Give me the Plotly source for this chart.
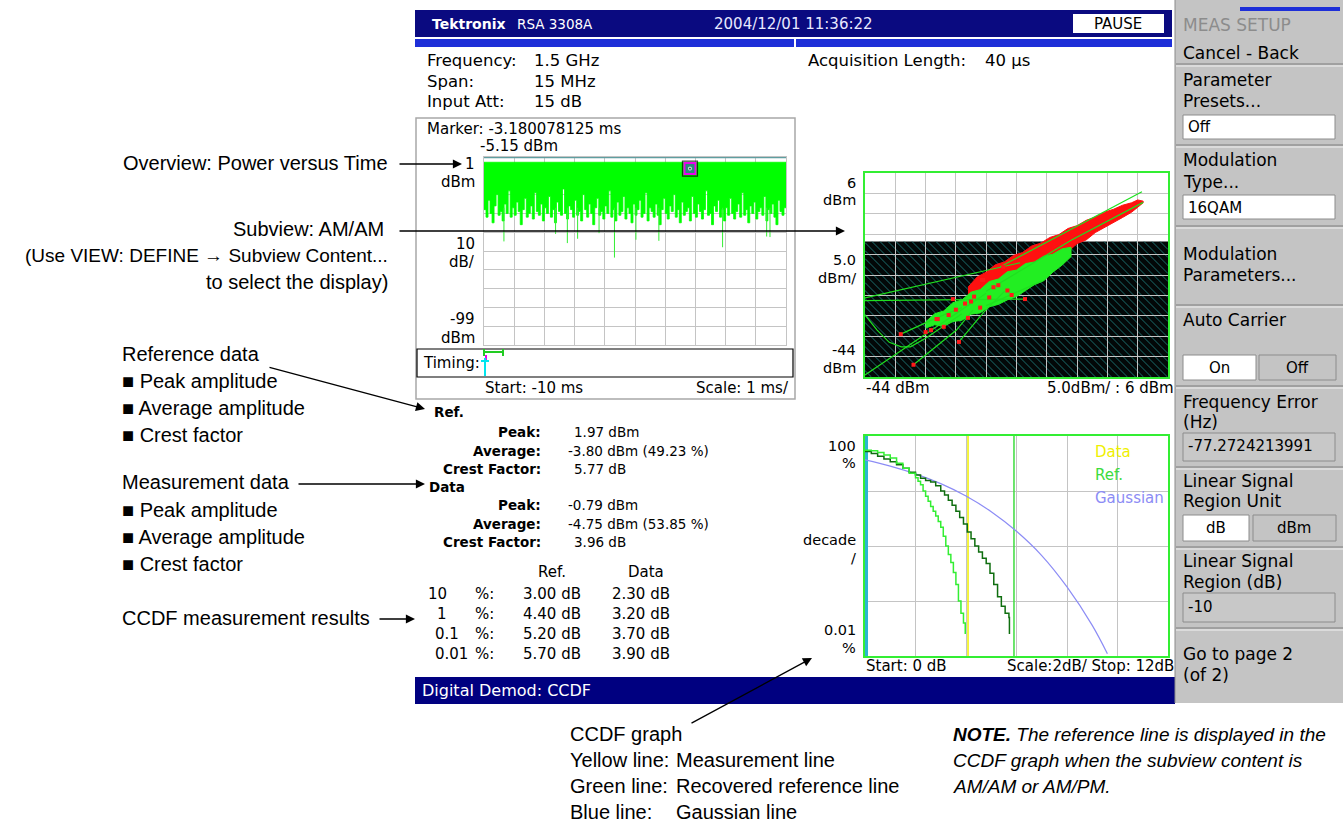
import plotly.graph_objects as go

W, H = 1343, 823

# ---------------- data ----------------
# Overview: power versus time, -10 ms .. 0 ms, lower tips of the trace (dBm)
ovw_top_dbm = -1.8
ovw_floor_dbm = [
    -27, -31, -22, -29, -34, -25, -19, -30, -28, -33, -24, -29, -17, -31, -26,
    -30, -23, -28, -35, -27, -21, -31, -29, -25, -32, -18, -28, -30, -24, -33,
    -26, -29, -20, -31, -27, -34, -23, -28, -30, -16, -29, -32, -25, -27, -31,
    -22, -30, -28, -33, -19, -27, -31, -24, -29, -35, -26, -21, -30, -28, -32,
    -25, -29, -17, -31, -27, -33, -23, -30, -28, -20, -32, -26, -29, -34, -24,
    -30, -27, -22, -31, -29, -18, -33, -26, -28, -31, -24, -30, -35, -27, -21,
    -29, -32, -25, -28, -19, -31, -27, -34, -23, -30, -28, -26, -33, -20, -29,
    -31, -24, -28, -32, -27, -17, -30, -29, -35, -25, -28, -22, -31, -27, -33,
    -26, -30, -21, -29, -32, -28, -24, -31, -18, -30, -27, -34, -25, -29, -23,
    -32, -28, -26, -30, -20, -33, -27, -29, -24, -31, -35, -22, -28, -30, -26,
]
ovw_spike_ms = [-9.34, -7.63, -7.24, -6.90, -6.19, -5.68, -4.97, -4.21, -2.10, -0.64, -0.53]
ovw_spike_dbm = [-43.9, -39.9, -44.8, -42.5, -39.5, -52.5, -43.0, -43.6, -47.0, -41.3, -41.6]
marker_ms = -3.18
marker_dbm = -5.15

# AM/AM subview (input dBm vs output dBm)
amam_red_x = [-27, -25.5, -24, -22.5, -21, -19.5, -18, -16.5, -15, -13.5, -12, -10.5,
              -9, -7.5, -6, -4.5, -3, -1.5, 0, 1.0, 1.9]
amam_red_hi = [-22, -19.5, -18.3, -16.5, -15.8, -14.2, -13.5, -11.9, -11.2, -9.8, -9.1, -7.6,
               -6.9, -5.6, -4.8, -3.6, -2.9, -1.9, -1.3, -0.6, -0.9]
amam_red_lo = [-27, -26.2, -25, -24.1, -22.5, -21.6, -19.8, -19.0, -17.2, -16.1, -14.2, -13.3,
               -11.3, -10.4, -8.6, -7.5, -6.1, -4.9, -3.6, -2.4, -1.3]
amam_grn_x = [-34, -32.5, -31, -29.5, -28, -26.5, -25, -23.5, -22, -20.5, -19, -17.5,
              -16, -14.5, -13, -11.5, -10]
amam_grn_hi = [-30.5, -28.5, -27.8, -25.8, -25.1, -23.2, -22.6, -20.6, -20.0, -18.2, -17.8, -16.2,
               -15.8, -14.4, -13.9, -12.6, -12.2]
amam_grn_lo = [-32, -31.2, -31.6, -30.4, -30.1, -28.6, -28.3, -26.8, -26.2, -25.1, -24.3, -22.8,
               -21.3, -20.4, -18.3, -16.6, -14.5]
amam_path_x = [-44, -18.4, None, -44, -17.6, None,
               -44, -42, -40, -38, -36.5, -34, -31, -28, None,
               -44, -30.5, -24, None, -36, -28.9, -26.2, None,
               -38.1, -32.2, -28, None, -28.5, -24.5, -21, None,
               -14.8, -24, None, -21.7, 1.7, None, -24, -10, 1.9]
amam_path_y = [-24.6, -16, None, -25.3, -24.9, None,
               -28.8, -32.5, -35.5, -36.6, -36.6, -34.5, -31.5, -28.5, None,
               -43.5, -30, -23.5, None, -41, -32.5, -27.6, None,
               -33.5, -29.5, -27, None, -35.4, -28.3, -23, None,
               -20.5, -26.5, None, -17, 1.4, None, -23, -10.5, -1.2]
amam_dot_x = [-38.1, -36.0, -28.5, -34.0, -33.1, -31.0, -29.5, -32.2, -30.2, -24.5, -17.6,
              -21.2, -32.0, -24.7, -19.8, -26.5, -22.8, -29, -27.5, -26, -25, -23.5, -22, -20.5, -27]
amam_dot_y = [-33.5, -41.0, -35.4, -33.0, -32.5, -31.7, -24.9, -29.8, -28.8, -20.2, -24.9,
              -17.0, -29.8, -20.2, -23.9, -25.5, -22.0, -27.5, -26, -24.3, -27, -24.5, -21.5, -22.8, -29.5]
amam_linear_top_dbm = -10.8

# CCDF graph (dB above average vs probability %)
ccdf_data_db = [0, 0.25, 0.5, 0.75, 1.0, 1.25, 1.5, 1.75, 2.0, 2.1, 2.2, 2.3, 2.4, 2.5, 2.6, 2.7,
                2.8, 2.9, 3.0, 3.1, 3.2, 3.3, 3.4, 3.5, 3.6, 3.7, 3.8, 3.9, 3.97]
ccdf_data_pct = [55, 54, 50, 45, 40, 32, 26, 21, 17.5, 15, 13, 10, 8, 6.5, 5.2, 4.3,
                 3.5, 2.8, 2.2, 1.5, 1.0, 0.7, 0.5, 0.33, 0.2, 0.1, 0.06, 0.04, 0.025]
ccdf_ref_db = [0, 0.25, 0.5, 0.75, 1.0, 1.25, 1.5, 1.75, 2.0, 2.2, 2.4, 2.6, 2.8, 3.0, 3.15, 3.3,
               3.45, 3.6, 3.75, 3.9, 4.05, 4.2, 4.35, 4.5, 4.65, 4.8, 4.95, 5.1, 5.25, 5.4, 5.55, 5.7, 5.72]
ccdf_ref_pct = [52, 48, 43, 38, 34, 30, 26, 22, 19.5, 17, 15.5, 14.5, 12.5, 10, 8.5, 6.8,
                5.5, 4.3, 3.3, 2.5, 1.8, 1.35, 1.0, 0.78, 0.6, 0.48, 0.32, 0.2, 0.12, 0.08, 0.06, 0.05, 0.025]
ccdf_gauss_db = [0, 1, 2, 3, 4, 5, 6, 7, 8, 9, 9.6]
ccdf_gauss_pct = [36.8, 28.4, 20.5, 13.6, 8.1, 4.2, 1.85, 0.67, 0.18, 0.036, 0.011]
ccdf_cursor_db = [0.05, 4.08, 5.9]
ccdf_cursor_color = ['#2bb5d0', '#f0f000', '#3ddc3d']
ccdf_cursor_width = [3.5, 1.5, 1.5]

# numeric readouts
ref_labels = ['Peak:', 'Average:', 'Crest Factor:']
ref_values = ['1.97 dBm', '-3.80 dBm (49.23 %)', '5.77 dB']
data_values = ['-0.79 dBm', '-4.75 dBm (53.85 %)', '3.96 dB']
ccdf_levels = ['10', '1', '0.1', '0.01']
ccdf_ref_txt = ['3.00 dB', '4.40 dB', '5.20 dB', '5.70 dB']
ccdf_data_txt = ['2.30 dB', '3.20 dB', '3.70 dB', '3.90 dB']

# ---------------- pixel helpers ----------------
def px(x):
    return x / W


def py(y):
    return 1 - y / H


OV = (484, 786, 157, 345)
AM = (865, 1168, 173, 377)
CC = (865, 1168, 436, 656)

INSTR = 'DejaVu Sans'
NOTE = 'Liberation Sans Narrow, Arial Narrow, Liberation Sans, sans-serif'

fig = go.Figure()
shapes = []
notes = []


def rect(x0, y0, x1, y1, fill=None, line=None, lw=1):
    shapes.append(dict(type='rect', xref='paper', yref='paper', layer='below',
                       x0=px(x0), x1=px(x1), y0=py(y0), y1=py(y1),
                       fillcolor=fill or 'rgba(0,0,0,0)',
                       line=dict(color=line or 'rgba(0,0,0,0)', width=lw if line else 0)))


def seg(x0, y0, x1, y1, color, lw=1):
    shapes.append(dict(type='line', xref='paper', yref='paper', layer='above',
                       x0=px(x0), x1=px(x1), y0=py(y0), y1=py(y1),
                       line=dict(color=color, width=lw)))


def txt(x, y, s, size=15, color='black', anchor='left', family=INSTR):
    notes.append(dict(x=px(x), y=py(y), xref='paper', yref='paper', text=s, showarrow=False,
                      xanchor=anchor, yanchor='middle', font=dict(family=family, size=size, color=color)))


def arrow(x0, y0, x1, y1):
    notes.append(dict(x=px(x1), y=py(y1), xref='paper', yref='paper', text='', showarrow=True,
                      ax=x0 - x1, ay=y0 - y1, axref='pixel', ayref='pixel',
                      arrowhead=2, arrowsize=1.4, arrowwidth=1.3, arrowcolor='black', standoff=0))


# ---------------- overview trace: one filled stepped outline ----------------
n = len(ovw_floor_dbm)
edges = [-10 + i * 10 / n for i in range(n + 1)]
ox = [-10, 0, edges[n]] + [edges[i] for i in range(n - 1, -1, -1)] + [-10]
oy = [ovw_top_dbm, ovw_top_dbm, ovw_floor_dbm[n - 1]] + \
     [ovw_floor_dbm[max(i - 1, 0)] for i in range(n - 1, -1, -1)] + [ovw_top_dbm]
fig.add_trace(go.Scatter(x=ox, y=oy, mode='lines', line_shape='hv', fill='toself',
                         fillcolor='#00ff00', line=dict(color='#00ff00', width=0.8),
                         xaxis='x', yaxis='y', hoverinfo='skip'))
sx, sy = [], []
for t, d in zip(ovw_spike_ms, ovw_spike_dbm):
    sx += [t, t, None]
    sy += [-26, d, None]
fig.add_trace(go.Scatter(x=sx, y=sy, mode='lines', line=dict(color='#33ee33', width=1),
                         xaxis='x', yaxis='y', hoverinfo='skip'))
fig.add_trace(go.Scatter(x=[marker_ms], y=[marker_dbm], mode='markers', xaxis='x', yaxis='y',
                         marker=dict(symbol='square', size=11, color='#2a8a7a',
                                     line=dict(color='#ee00ee', width=2))))
fig.add_trace(go.Scatter(x=[marker_ms, marker_ms], y=[marker_dbm, marker_dbm], mode='markers',
                         xaxis='x', yaxis='y',
                         marker=dict(symbol=['square-open', 'circle'], size=[15, 3],
                                     color=['black', '#222222'], line=dict(width=1.2))))

# ---------------- AM/AM ----------------
fig.add_trace(go.Scatter(x=amam_red_x + amam_red_x[::-1], y=amam_red_hi + amam_red_lo[::-1],
                         fill='toself', fillcolor='#ff1010', mode='lines',
                         line=dict(color='#ff1010', width=1), xaxis='x2', yaxis='y2'))
fig.add_trace(go.Scatter(x=amam_grn_x + amam_grn_x[::-1], y=amam_grn_hi + amam_grn_lo[::-1],
                         fill='toself', fillcolor='#22ee22', mode='lines',
                         line=dict(color='#22ee22', width=1), xaxis='x2', yaxis='y2'))
fig.add_trace(go.Scatter(x=amam_path_x, y=amam_path_y, mode='lines', connectgaps=False,
                         line=dict(color='#1fe01f', width=1.2), xaxis='x2', yaxis='y2'))
fig.add_trace(go.Scatter(x=amam_dot_x, y=amam_dot_y, mode='markers',
                         marker=dict(symbol='square', size=4, color='#ff1a1a'),
                         xaxis='x2', yaxis='y2'))

# ---------------- CCDF ----------------
for v, c, w in zip(ccdf_cursor_db, ccdf_cursor_color, ccdf_cursor_width):
    fig.add_trace(go.Scatter(x=[v, v], y=[0.01, 100], mode='lines', line=dict(color=c, width=w),
                             xaxis='x3', yaxis='y3'))
fig.add_trace(go.Scatter(x=ccdf_gauss_db, y=ccdf_gauss_pct, mode='lines', line_shape='spline',
                         line=dict(color='#8c8cf5', width=1.2), xaxis='x3', yaxis='y3'))
fig.add_trace(go.Scatter(x=ccdf_ref_db, y=ccdf_ref_pct, mode='lines', line_shape='hv',
                         line=dict(color='#0f6e0f', width=1.5), xaxis='x3', yaxis='y3'))
fig.add_trace(go.Scatter(x=ccdf_data_db, y=ccdf_data_pct, mode='lines', line_shape='hv',
                         line=dict(color='#33ee33', width=1.5), xaxis='x3', yaxis='y3'))


def axis(box, horiz, rng, dtick, tick0, anchor, linecolor, lw, kind='linear'):
    x0, x1, y0, y1 = box
    dom = [px(x0), px(x1)] if horiz else [py(y1), py(y0)]
    return dict(domain=dom, range=rng, dtick=dtick, tick0=tick0, type=kind, anchor=anchor,
                showgrid=True, gridcolor='#c4c4c4', gridwidth=1, showticklabels=False,
                ticks='', zeroline=False, showline=True, mirror=True, linecolor=linecolor,
                linewidth=lw, fixedrange=True)


# ---------------- AM/AM dark linear region with hatching ----------------
htop = AM[2] + (6 - amam_linear_top_dbm) / 50 * (AM[3] - AM[2])
rect(AM[0], htop, AM[1], AM[3], fill='#030808')
hatch = []
c = htop - AM[1]
while c < AM[3] - AM[0]:
    xa = max(AM[0], htop - c)
    xb = min(AM[1], AM[3] - c)
    if xb > xa:
        hatch.append(f'M{px(xa):.5f},{py(xa + c):.5f} L{px(xb):.5f},{py(xb + c):.5f}')
    c += 8
shapes.append(dict(type='path', xref='paper', yref='paper', layer='below', path=' '.join(hatch),
                   line=dict(color='#1d6e6e', width=1)))

# overview teal reference line
shapes.append(dict(type='line', xref='x', yref='y', x0=-10, x1=0, y0=1, y1=1,
                   line=dict(color='#5f9ea0', width=2.5)))

# ---------------- instrument frame ----------------
rect(415, 10, 1172, 37, fill='#0a0a80')
rect(415, 39, 794, 47, fill='#1e2fd8')
rect(796, 39, 1172, 47, fill='#1e2fd8')
rect(1073, 14, 1164, 33, fill='white')
txt(430, 24, '<b>Tektronix</b>', 14, 'white')
txt(515, 24, 'RSA 3308A', 13.5, 'white')
txt(793, 24, '2004/12/01 11:36:22', 15, '#e8e8ff', 'center')
txt(1118, 24, 'PAUSE', 15, 'black', 'center')

I = 16.5
txt(425, 60, 'Frequency:', I)
txt(532, 60, '1.5 GHz', I)
txt(425, 81, 'Span:', I)
txt(532, 81, '15 MHz', I)
txt(425, 101, 'Input Att:', I)
txt(532, 101, '15 dB', I)
txt(806, 60, 'Acquisition Length:', I)
txt(983, 60, '40 µs', I)

# overview panel
rect(416, 118, 795, 399, line='#a8a8a8', lw=1.5)
P = 15
txt(425, 129, 'Marker: -3.180078125 ms', P)
txt(478, 146, '-5.15 dBm', P)
for yy, s in [(164, '1'), (182, 'dBm'), (244, '10'), (262, 'dB/'), (319, '-99'), (338, 'dBm')]:
    txt(477, yy, s, P, anchor='right')
rect(417, 349, 793, 377, line='black', lw=1.2)
txt(421, 363, 'Timing:', P)
seg(484, 352, 503, 352, '#22cc22', 2)
seg(484, 349, 484, 356, '#22cc22', 2)
seg(503, 349, 503, 356, '#22cc22', 2)
seg(486, 355, 486, 361, '#ee00ee', 2)
seg(485, 358, 485, 376, '#00e5ee', 2)
seg(481, 361, 489, 361, '#00e5ee', 2)
txt(483, 388, 'Start: -10 ms', P)
txt(791, 388, 'Scale: 1 ms/', P, anchor='right')

# AM/AM labels
for yy, s in [(183, '6'), (200, 'dBm'), (260, '5.0'), (278, 'dBm/'), (350, '-44'), (368, 'dBm')]:
    txt(858, yy, s, 14.5, anchor='right')
txt(864, 388, '-44 dBm', P)
txt(1176, 388, '5.0dBm/ : 6 dBm', P, anchor='right')

# CCDF labels
for yy, s in [(446, '100'), (463, '%'), (540, 'decade'), (558, '/'), (630, '0.01'), (648, '%')]:
    txt(858, yy, s, 14.5, anchor='right')
txt(864, 666, 'Start: 0 dB', P)
txt(1176, 666, 'Scale:2dB/ Stop: 12dB', P, anchor='right')
txt(1093, 452, 'Data', P, '#f0f000')
txt(1093, 475, 'Ref.', P, '#3ddc3d')
txt(1093, 498, 'Gaussian', P, '#8c8cf5')

# readouts
txt(432, 412, '<b>Ref.</b>', 13.5)
txt(427, 487, '<b>Data</b>', 13.5)
for i in range(3):
    txt(543, 432 + i * 18.5, f'<b>{ref_labels[i]}</b>', 13.5, anchor='right')
    txt(543, 505 + i * 18.5, f'<b>{ref_labels[i]}</b>', 13.5, anchor='right')
    txt(566 if ref_values[i].startswith('-') else 572, 432 + i * 18.5, ref_values[i], 13.5)
    txt(566 if data_values[i].startswith('-') else 572, 505 + i * 18.5, data_values[i], 13.5)
txt(552, 572, 'Ref.', 15, anchor='center')
txt(646, 572, 'Data', 15, anchor='center')
for i, lev in enumerate(ccdf_levels):
    yy = 594 + i * 20
    txt(426 if lev == '10' else (435 if lev == '1' else 433), yy, lev, 15)
    txt(473, yy, '%:', 15)
    txt(583, yy, ccdf_ref_txt[i], 15, anchor='right')
    txt(672, yy, ccdf_data_txt[i], 15, anchor='right')

rect(415, 677, 1175, 704, fill='#000080')
txt(420, 690, 'Digital Demod: CCDF', 16, 'white')

# ---------------- side menu ----------------
rect(1175, 0, 1343, 703, fill='#c4c4c4')
seg(1175, 0, 1175, 703, '#8a8a8a', 1)
rect(1240, 7, 1340, 11, fill='#1e2fd8')
for yy in [64, 145, 226, 305, 386, 467, 547, 628]:
    seg(1176, yy, 1343, yy, '#7c7c7c', 1.2)
    seg(1176, yy + 2, 1343, yy + 2, '#f2f2f2', 1.2)
rect(1183, 115, 1335, 139, fill='white', line='#8c8c8c')
rect(1183, 195, 1335, 219, fill='white', line='#8c8c8c')
rect(1183, 355, 1256, 380, fill='white', line='#8c8c8c')
rect(1259, 355, 1336, 380, fill='#c4c4c4', line='#8c8c8c')
rect(1183, 433, 1335, 461, fill='#c8c8c8', line='#8c8c8c')
rect(1183, 515, 1249, 541, fill='white', line='#8c8c8c')
rect(1253, 515, 1336, 541, fill='#c4c4c4', line='#8c8c8c')
rect(1183, 593, 1335, 622, fill='#c8c8c8', line='#8c8c8c')

M = 17
txt(1181, 25, 'MEAS SETUP', M, '#8c8c8c')
txt(1181, 53, 'Cancel - Back', M)
txt(1181, 80, 'Parameter', M)
txt(1181, 101, 'Presets...', M)
txt(1186, 127, 'Off', 15)
txt(1181, 160, 'Modulation', M)
txt(1181, 182, 'Type...', M)
txt(1186, 208, '16QAM', 15)
txt(1181, 254, 'Modulation', M)
txt(1181, 275, 'Parameters...', M)
txt(1181, 320, 'Auto Carrier', M)
txt(1219, 368, 'On', 15, anchor='center')
txt(1297, 368, 'Off', 15, anchor='center')
txt(1181, 402, 'Frequency Error', M)
txt(1181, 422, '(Hz)', M)
txt(1186, 446, '-77.2724213991', 15)
txt(1181, 481, 'Linear Signal', M)
txt(1181, 501, 'Region Unit', M)
txt(1216, 528, 'dB', 15, anchor='center')
txt(1294, 528, 'dBm', 15, anchor='center')
txt(1181, 561, 'Linear Signal', M)
txt(1181, 582, 'Region (dB)', M)
txt(1186, 607, '-10', 15)
txt(1181, 654, 'Go to page 2', M)
txt(1181, 675, '(of 2)', M)

# ---------------- callouts ----------------
F = 20
txt(390, 163, 'Overview: Power versus Time', F, family=NOTE, anchor='right')
arrow(398, 164, 462, 164)
txt(386, 229, 'Subview: AM/AM', F, family=NOTE, anchor='right')
arrow(398, 231, 845, 231)
txt(390, 256, '(Use VIEW: DEFINE \u2192 Subview Content...', 19, family=NOTE, anchor='right')
txt(390, 282, 'to select the display)', F, family=NOTE, anchor='right')
txt(120, 354, 'Reference data', F, family=NOTE)
arrow(268, 367, 425, 409)
for i, s in enumerate(['Peak amplitude', 'Average amplitude', 'Crest factor']):
    txt(120, 381 + i * 27, '\u25a0 ' + s, F, family=NOTE)
    txt(120, 510 + i * 27, '\u25a0 ' + s, F, family=NOTE)
txt(120, 482, 'Measurement data', F, family=NOTE)
arrow(297, 484, 425, 484)
txt(120, 618, 'CCDF measurement results', F, family=NOTE)
arrow(378, 619, 415, 619)

txt(568, 734, 'CCDF graph', F, family=NOTE)
arrow(690, 724, 812, 658)
for i, (a, b) in enumerate([('Yellow line:', 'Measurement line'),
                            ('Green line:', 'Recovered reference line'),
                            ('Blue line:', 'Gaussian line')]):
    txt(568, 760 + i * 26, a, F, family=NOTE)
    txt(674, 760 + i * 26, b, F, family=NOTE)
N = 19
txt(951, 734, '<b><i>NOTE.</i></b><i> The reference line is displayed in the</i>', N, family=NOTE)
txt(951, 760, '<i>CCDF graph when the subview content is</i>', N, family=NOTE)
txt(951, 786, '<i>AM/AM or AM/PM.</i>', N, family=NOTE)

fig.update_layout(
    width=W, height=H, margin=dict(l=0, r=0, t=0, b=0),
    paper_bgcolor='white', plot_bgcolor='rgba(0,0,0,0)',
    showlegend=False,
    xaxis=axis(OV, True, [-10, 0], 1, -10, 'y', '#c4c4c4', 1),
    yaxis=axis(OV, False, [-99, 1], 10, 1, 'x', '#c4c4c4', 1),
    xaxis2=axis(AM, True, [-44, 6], 5, -44, 'y2', '#33ee33', 2),
    yaxis2=axis(AM, False, [-44, 6], 5, -44, 'x2', '#33ee33', 2),
    xaxis3=axis(CC, True, [0, 12], 2, 0, 'y3', '#33ee33', 2),
    yaxis3=axis(CC, False, [-2, 2], 1, 0, 'x3', '#33ee33', 2, 'log'),
    shapes=shapes, annotations=notes,
)

fig.write_html('out.html', config={'displayModeBar': False},
               post_script="document.body.style.margin='0';document.body.style.overflow='hidden';")
